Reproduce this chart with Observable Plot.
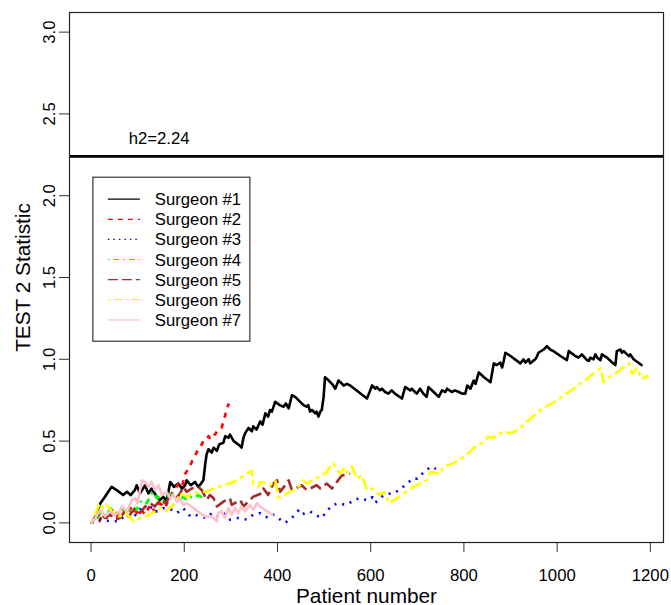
<!DOCTYPE html>
<html>
<head>
<meta charset="utf-8">
<script src="https://cdn.jsdelivr.net/npm/d3@7"></script>
<script src="https://cdn.jsdelivr.net/npm/@observablehq/plot@0.6"></script>
<style>
  body { margin: 0; background: #fff; }
  #chart svg { display: block; }
</style>
</head>
<body>
<div id="chart"></div>
<script>
// TEST 2 statistic per surgeon, by patient number: [patient, statistic]
const surgeon1 = [[1,0.0],[8,0.03],[20,0.12],[30,0.16],[44,0.22],[55,0.2],[69,0.17],[77,0.19],[85,0.17],[94,0.2],[98,0.23],[105,0.18],[116,0.23],[123,0.18],[130,0.21],[141,0.16],[148,0.14],[155,0.16],[162,0.13],[170,0.25],[178,0.22],[187,0.24],[195,0.21],[202,0.23],[205,0.26],[214,0.23],[223,0.25],[230,0.22],[236,0.24],[241,0.26],[245,0.36],[248,0.42],[252,0.45],[259,0.43],[263,0.46],[270,0.44],[275,0.48],[284,0.49],[288,0.53],[295,0.52],[298,0.54],[306,0.5],[320,0.47],[323,0.46],[327,0.52],[331,0.55],[338,0.58],[345,0.56],[348,0.59],[355,0.57],[363,0.62],[368,0.6],[374,0.67],[380,0.65],[384,0.69],[388,0.68],[395,0.74],[405,0.72],[413,0.71],[418,0.73],[424,0.7],[431,0.78],[438,0.77],[445,0.75],[452,0.73],[456,0.72],[463,0.71],[466,0.72],[470,0.68],[474,0.69],[481,0.67],[484,0.68],[488,0.65],[492,0.68],[495,0.69],[499,0.77],[502,0.89],[510,0.87],[517,0.85],[524,0.82],[531,0.87],[535,0.86],[542,0.84],[549,0.85],[556,0.84],[574,0.8],[592,0.76],[599,0.81],[603,0.84],[610,0.82],[613,0.83],[620,0.81],[624,0.82],[631,0.8],[638,0.79],[645,0.81],[652,0.79],[667,0.76],[671,0.8],[674,0.83],[685,0.81],[688,0.82],[695,0.8],[699,0.79],[706,0.82],[713,0.79],[720,0.77],[724,0.83],[735,0.8],[746,0.77],[753,0.81],[760,0.8],[764,0.82],[774,0.8],[781,0.81],[789,0.8],[796,0.79],[803,0.79],[807,0.84],[814,0.82],[821,0.87],[825,0.85],[832,0.92],[843,0.89],[857,0.86],[864,0.975],[871,0.965],[878,0.98],[882,0.95],[885,0.985],[889,1.04],[900,1.02],[921,0.975],[928,1.0],[932,0.98],[939,1.0],[942,0.975],[953,1.0],[957,1.02],[960,1.04],[971,1.06],[975,1.07],[978,1.08],[985,1.06],[992,1.05],[1007,1.02],[1021,0.995],[1025,1.05],[1039,1.02],[1046,1.01],[1053,1.03],[1064,0.995],[1068,0.99],[1071,1.01],[1078,1.0],[1082,1.03],[1086,1.01],[1093,0.995],[1096,1.03],[1107,1.01],[1118,0.98],[1125,0.965],[1128,1.05],[1136,1.06],[1139,1.04],[1143,1.05],[1150,1.03],[1154,1.02],[1157,1.03],[1164,1.0],[1181,0.965]];
const surgeon2 = [[1,0.0],[9,0.03],[18,0.01],[26,0.06],[34,0.03],[45,0.08],[55,0.04],[66,0.09],[77,0.05],[88,0.1],[98,0.06],[105,0.09],[116,0.05],[127,0.11],[137,0.07],[148,0.12],[159,0.09],[170,0.17],[180,0.2],[187,0.24],[195,0.22],[202,0.3],[209,0.33],[213,0.35],[220,0.4],[223,0.41],[230,0.45],[234,0.46],[241,0.5],[245,0.5],[252,0.53],[255,0.52],[263,0.55],[266,0.54],[272,0.57],[280,0.58],[284,0.62],[288,0.66],[291,0.7],[296,0.73]];
const surgeon3 = [[1,0.0],[20,0.02],[40,0.01],[59,0.01],[75,0.05],[90,0.03],[105,0.08],[112,0.11],[120,0.08],[134,0.1],[141,0.07],[155,0.09],[173,0.08],[184,0.06],[198,0.09],[213,0.04],[223,0.05],[234,0.04],[248,0.03],[259,0.06],[270,0.04],[284,0.06],[298,0.02],[316,0.03],[334,0.02],[348,0.05],[363,0.06],[380,0.03],[391,0.05],[406,0.02],[416,0.0],[431,0.03],[445,0.075],[452,0.05],[459,0.06],[470,0.07],[480,0.05],[495,0.03],[506,0.075],[520,0.11],[531,0.12],[538,0.115],[549,0.11],[567,0.145],[580,0.15],[593,0.136],[604,0.157],[610,0.124],[624,0.16],[635,0.177],[650,0.18],[663,0.206],[679,0.243],[692,0.273],[700,0.27],[715,0.313],[729,0.344],[740,0.33]];
const surgeon4 = [[1,0.0],[9,0.01],[20,0.06],[30,0.03],[42,0.09],[55,0.06],[66,0.09],[77,0.06],[88,0.1],[98,0.08],[109,0.14],[120,0.12],[127,0.17],[134,0.19],[141,0.15],[148,0.16],[155,0.13],[162,0.15],[170,0.17],[177,0.18],[184,0.15],[191,0.14],[198,0.16],[205,0.14],[212,0.16],[220,0.15],[230,0.17],[241,0.15],[245,0.16]];
const surgeon5 = [[1,0.0],[5,0.02],[20,0.06],[30,0.03],[41,0.05],[52,0.02],[62,0.03],[72,0.07],[80,0.04],[95,0.09],[105,0.06],[116,0.1],[127,0.12],[137,0.1],[148,0.14],[159,0.12],[170,0.16],[180,0.14],[191,0.18],[198,0.22],[205,0.19],[216,0.21],[230,0.22],[238,0.2],[248,0.14],[255,0.17],[263,0.15],[270,0.1],[284,0.13],[298,0.15],[302,0.11],[320,0.14],[327,0.1],[348,0.16],[366,0.18],[370,0.21],[380,0.17],[391,0.24],[399,0.26],[406,0.19],[424,0.26],[431,0.2],[452,0.23],[463,0.2],[484,0.23],[492,0.21],[506,0.24],[517,0.21],[538,0.29],[556,0.3]];
const surgeon6 = [[1,0.0],[8,0.05],[19,0.12],[26,0.09],[34,0.11],[45,0.07],[62,0.04],[75,0.06],[91,0.01],[105,0.03],[119,0.04],[137,0.07],[148,0.09],[160,0.07],[173,0.1],[184,0.14],[191,0.18],[205,0.16],[220,0.18],[241,0.19],[248,0.19],[263,0.21],[284,0.23],[306,0.25],[323,0.28],[345,0.32],[348,0.24],[359,0.22],[363,0.25],[377,0.24],[384,0.23],[395,0.26],[402,0.16],[406,0.15],[420,0.18],[442,0.21],[456,0.26],[463,0.24],[488,0.28],[506,0.31],[509,0.33],[520,0.365],[527,0.33],[535,0.3],[545,0.34],[549,0.31],[560,0.345],[570,0.27],[581,0.29],[592,0.2],[603,0.21],[620,0.17],[628,0.19],[635,0.16],[638,0.12],[656,0.15],[675,0.19],[699,0.23],[720,0.26],[728,0.31],[749,0.3],[756,0.344],[775,0.36],[792,0.39],[814,0.435],[824,0.466],[840,0.49],[853,0.527],[862,0.52],[870,0.53],[885,0.558],[900,0.548],[910,0.56],[928,0.6],[964,0.69],[1000,0.75],[1035,0.82],[1068,0.89],[1093,0.945],[1100,0.86],[1111,0.89],[1128,0.92],[1154,0.975],[1161,0.91],[1171,0.945],[1182,0.88],[1196,0.9]];
const surgeon7 = [[1,0.0],[9,0.03],[20,0.08],[30,0.04],[41,0.07],[50,0.05],[59,0.06],[66,0.1],[77,0.07],[88,0.14],[94,0.15],[100,0.12],[109,0.26],[116,0.25],[123,0.22],[130,0.25],[137,0.2],[145,0.23],[152,0.17],[162,0.19],[170,0.15],[177,0.17],[184,0.13],[191,0.15],[198,0.11],[205,0.12],[220,0.09],[234,0.06],[245,0.04],[259,0.04],[270,0.01],[272,0.06],[280,0.07],[287,0.03],[295,0.09],[302,0.05],[309,0.09],[316,0.06],[323,0.1],[330,0.07],[341,0.11],[348,0.08],[356,0.12],[362,0.1],[389,0.05]];

const surgeonSeries = [surgeon1, surgeon2, surgeon3, surgeon4, surgeon5, surgeon6, surgeon7];
const surgeonNames = ["Surgeon #1", "Surgeon #2", "Surgeon #3", "Surgeon #4", "Surgeon #5", "Surgeon #6", "Surgeon #7"];

// decision threshold
const h2 = 2.24;

const xTicks = [0, 200, 400, 600, 800, 1000, 1200];
const yTicks = [0, 0.5, 1, 1.5, 2, 2.5, 3];

// line styles (R palette 1..7, lty 1..6)
const colors = ["#000000", "#FF0000", "#0000FF", "#00FF00", "#A52A2A", "#FFFF00", "#FFC0CB"];
const dashes = [null, "5,6", "2,6", "2,5,7,5", "12,5", "4,4,12,4", null];
const legendDashes = [null, "5,5", "1.5,4", "1.5,4,6,4", "10,4", "3,3,9,3", null];

const font = "'Liberation Sans', Arial, Helvetica, sans-serif";
const fs = 16.7, fsLab = 20.8;

const chart = Plot.plot({
  width: 671,
  height: 605,
  marginLeft: 69,
  marginRight: 8,
  marginTop: 12,
  marginBottom: 63,
  style: { fontFamily: font, fontSize: fs + "px", background: "white", color: "black" },
  x: { domain: [-46.2, 1228.2] },
  y: { domain: [-0.12, 3.12] },
  marks: [
    Plot.axisX({ ticks: xTicks, tickSize: 10, tickPadding: 17, tickFormat: d => String(d), fontSize: fs, label: null, stroke: "#333" }),
    Plot.axisY({ ticks: yTicks, tickSize: 10, tickFormat: () => "", label: null, stroke: "#333" }),
    Plot.text(yTicks, { y: d => d, text: d3.format(".1f"), frameAnchor: "left", dx: -14.5, rotate: -90, textAnchor: "middle", lineAnchor: "bottom", fontSize: fs }),
    Plot.text(["Patient number"], { frameAnchor: "bottom", dy: 60, lineAnchor: "bottom", fontSize: fsLab }),
    Plot.text(["TEST 2 Statistic"], { frameAnchor: "left", dx: -40, rotate: -90, textAnchor: "middle", lineAnchor: "bottom", fontSize: fsLab }),
    ...surgeonSeries.map((pts, i) => Plot.line(pts, {
      x: d => d[0], y: d => d[1],
      stroke: colors[i],
      strokeWidth: 2.6,
      strokeDasharray: dashes[i],
      strokeLinecap: dashes[i] ? "butt" : "round",
      strokeLinejoin: "round"
    })),
    Plot.ruleY([h2], { stroke: "black", strokeWidth: 2.8 }),
    Plot.text([h2], { x: 146, y: 2.35, text: d => `h2=${d}`, fontSize: fs }),
    Plot.frame({ stroke: "#222", strokeWidth: 1.2 })
  ]
});

document.getElementById("chart").appendChild(chart);

// legend box anchored at (patient 5, statistic 2.11)
const legendAt = [5, 2.11];
const lx = chart.scale("x").apply(legendAt[0]);
const ly = chart.scale("y").apply(legendAt[1]);
const svg = d3.select(chart);
const lg = svg.append("g").attr("transform", `translate(${lx},${ly})`)
  .attr("font-family", font).attr("font-size", fs).attr("text-anchor", "start");
lg.append("rect").attr("x", 0).attr("y", 0).attr("width", 157).attr("height", 164)
  .attr("fill", "white").attr("stroke", "#333").attr("stroke-width", 1.2);
surgeonNames.forEach((name, i) => {
  const cy = 22 + i * 20.1;
  lg.append("line").attr("x1", 15).attr("x2", 47).attr("y1", cy).attr("y2", cy)
    .attr("stroke", colors[i]).attr("stroke-width", 1.2)
    .attr("stroke-dasharray", legendDashes[i]);
  lg.append("text").attr("x", 62).attr("y", cy).attr("dy", "0.36em")
    .attr("text-anchor", "start").attr("fill", "black").text(name);
});
</script>
</body>
</html>
